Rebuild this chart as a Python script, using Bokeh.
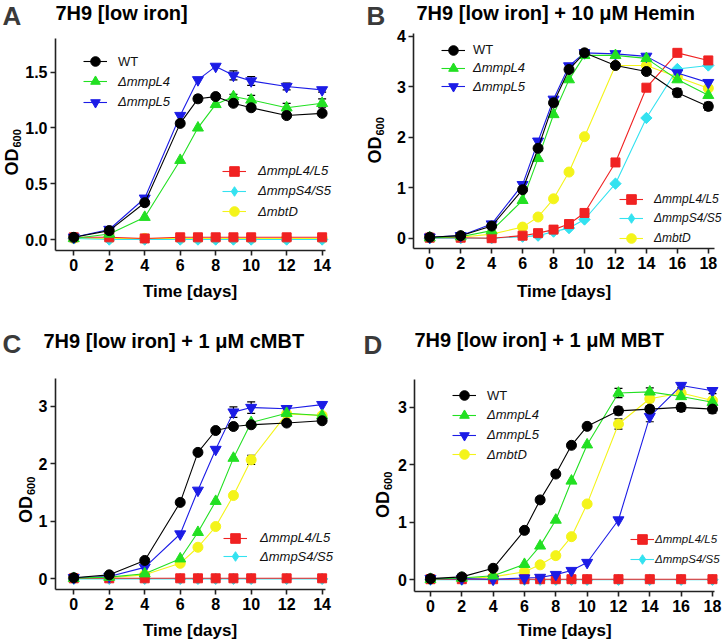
from bokeh.plotting import figure
from bokeh.layouts import gridplot
from bokeh.models import (Range1d, Legend, LegendItem, Label, Whisker, TeeHead, LinearAxis,
                          ColumnDataSource, FixedTicker, NumeralTickFormatter)
from bokeh.embed import file_html
from bokeh.resources import INLINE

FONT = "Liberation Sans"

# ------------------------------------------------------------------ data
days_14 = [0, 2, 4, 6, 7, 8, 9, 10, 12, 14]
days_18 = [0, 2, 4, 6, 7, 8, 9, 10, 12, 14, 16, 18]

series_names = ["WT", "ΔmmpL4", "ΔmmpL5", "ΔmmpL4/L5", "ΔmmpS4/S5", "ΔmbtD"]

# Panel A: 7H9 [low iron]
a_wt = [0.02, 0.08, 0.33, 1.04, 1.26, 1.28, 1.22, 1.18, 1.11, 1.13]
a_L4 = [0.01, 0.05, 0.20, 0.71, 1.00, 1.21, 1.28, 1.25, 1.18, 1.22]
a_L5 = [0.02, 0.09, 0.37, 1.11, 1.43, 1.55, 1.47, 1.42, 1.37, 1.34]
a_L4L5 = [0.02, 0.02, 0.01, 0.02, 0.02, 0.02, 0.02, 0.02, 0.02, 0.02]
a_S4S5 = [0.01, 0.00, 0.00, 0.00, 0.00, 0.00, 0.00, 0.00, 0.00, 0.00]
a_mbtD = [0.01, 0.01, 0.01, 0.01, 0.01, 0.01, 0.01, 0.01, 0.01, 0.01]
a_wt_err = [0, 0.01, 0.02, 0.02, 0.03, 0.02, 0.02, 0.02, 0.02, 0.02]
a_L4_err = [0, 0, 0, 0, 0, 0, 0.02, 0.04, 0.04, 0.04]
a_L5_err = [0, 0, 0, 0, 0, 0, 0.04, 0.04, 0.03, 0.02]

# Panel B: + 10 uM Hemin
b_wt = [0.02, 0.05, 0.24, 0.96, 1.78, 2.68, 3.34, 3.67, 3.42, 3.30, 2.88, 2.61]
b_L4 = [0.01, 0.03, 0.15, 0.75, 1.58, 2.45, 3.14, 3.62, 3.62, 3.56, 3.14, 2.83]
b_L5 = [0.02, 0.05, 0.28, 1.06, 1.92, 2.75, 3.41, 3.67, 3.65, 3.60, 3.27, 3.08]
b_L4L5 = [0.01, 0.01, 0.00, 0.05, 0.10, 0.17, 0.28, 0.50, 1.50, 2.98, 3.67, 3.52]
b_S4S5 = [0.00, 0.00, 0.00, 0.03, 0.05, 0.13, 0.20, 0.37, 1.08, 2.38, 3.35, 3.42]
b_mbtD = [0.01, 0.02, 0.08, 0.22, 0.42, 0.78, 1.31, 2.01, 3.42, 3.42, 3.19, 2.97]
b_wt_err = [0, 0, 0, 0, 0, 0, 0, 0, 0, 0.03, 0.08, 0.08]

# Panel C: + 1 uM cMBT
c_wt = [0.02, 0.07, 0.32, 1.33, 2.20, 2.58, 2.65, 2.68, 2.71, 2.75]
c_L4 = [0.01, 0.03, 0.09, 0.35, 0.81, 1.35, 2.10, 2.72, 2.88, 2.84]
c_L5 = [0.02, 0.04, 0.20, 0.78, 1.54, 2.25, 2.90, 2.98, 2.96, 3.03]
c_L4L5 = [0.01, 0.01, 0.01, 0.01, 0.01, 0.01, 0.01, 0.01, 0.01, 0.01]
c_S4S5 = [0.00, 0.00, 0.00, 0.00, 0.00, 0.00, 0.00, 0.00, 0.00, 0.00]
c_mbtD = [0.01, 0.02, 0.07, 0.27, 0.55, 0.91, 1.45, 2.07, 2.87, 2.84]
c_L5_err = [0, 0, 0, 0, 0, 0, 0.09, 0.10, 0, 0]
c_mbtD_err = [0, 0, 0, 0, 0, 0, 0, 0.08, 0, 0]

# Panel D: + 1 uM MBT
d_wt = [0.02, 0.05, 0.20, 0.86, 1.39, 1.84, 2.34, 2.67, 2.94, 2.97, 3.00, 2.97]
d_L4 = [0.01, 0.03, 0.07, 0.27, 0.59, 1.04, 1.72, 2.35, 3.25, 3.27, 3.19, 3.09]
d_L5 = [0.02, 0.02, 0.01, 0.03, 0.04, 0.09, 0.16, 0.30, 1.04, 2.84, 3.38, 3.29]
d_L4L5 = [0.01, 0.01, 0.01, 0.01, 0.01, 0.01, 0.01, 0.01, 0.01, 0.01, 0.01, 0.01]
d_S4S5 = [0.00, 0.00, 0.00, 0.00, 0.00, 0.00, 0.00, 0.00, 0.00, 0.00, 0.00, 0.00]
d_mbtD = [0.01, 0.02, 0.05, 0.14, 0.26, 0.42, 0.75, 1.32, 2.71, 3.15, 3.25, 3.12]
d_wt_err = [0, 0, 0, 0, 0, 0, 0, 0, 0.07, 0.06, 0.07, 0.07]
d_L4_err = [0, 0, 0, 0, 0, 0, 0, 0, 0.08, 0.07, 0, 0]
d_L5_err = [0, 0, 0, 0, 0, 0, 0, 0, 0, 0.09, 0.04, 0.05]
d_mbtD_err = [0, 0, 0, 0, 0, 0, 0, 0, 0.09, 0.05, 0, 0]

ticks_x14 = [0, 2, 4, 6, 8, 10, 12, 14]
ticks_x18 = [0, 2, 4, 6, 8, 10, 12, 14, 16, 18]

# ------------------------------------------------------------------ styles
# name: (colour, marker, size, angle, legend marker)
STYLE = {
    "WT": ("#000000", "circle", 10, 0.0, "circle"),
    "ΔmmpL4": ("#22e022", "triangle", 11, 0.0, "triangle"),
    "ΔmmpL5": ("#1c1ce6", "inverted_triangle", 11, 0.0, "inverted_triangle"),
    "ΔmmpL4/L5": ("#f02222", "square", 9, 0.0, "square"),
    "ΔmmpS4/S5": ("#33e2f0", "square", 8, 0.7854, "diamond"),
    "ΔmbtD": ("#f4f41a", "circle", 10, 0.0, "circle"),
}
DRAW_ORDER = ["ΔmbtD", "ΔmmpS4/S5", "ΔmmpL4/L5", "ΔmmpL5", "ΔmmpL4", "WT"]

PW, PH = 361, 321
BASE_SHIFT = 0.32   # alphabetic-baseline correction (fraction of font size)


def make_panel(g, days, ys, errs, letter, title, xticks, yticks, yfmt,
               top_keys, top_leg, bot_keys, bot_leg, xlabel_pos, ylabel_pos):
    ox, oy = g["ox"], g["oy"]
    kx = (g["x1"] - g["x0"]) / (g["fr"] - g["fl"])
    ky = (g["y1"] - g["y0"]) / (g["fb"] - g["ft"])
    cx0 = g["x0"] - (g["fl"] - ox) * kx
    cx1 = g["x0"] + (ox + PW - g["fl"]) * kx
    cy0 = g["y0"] - (oy + PH - g["fb"]) * ky
    cy1 = g["y0"] + (g["fb"] - oy) * ky

    p = figure(width=PW, height=PH, output_backend="svg", toolbar_location=None,
               title=None, x_axis_location=None, y_axis_location=None,
               x_range=Range1d(cx0, cx1), y_range=Range1d(cy0, cy1),
               min_border=0, min_border_left=0, min_border_right=0,
               min_border_top=0, min_border_bottom=0)
    p.outline_line_color = None
    p.xgrid.visible = False
    p.ygrid.visible = False

    xaxis = LinearAxis(fixed_location=g["y0"], bounds=(g["x0"], g["x1"]),
                       ticker=FixedTicker(ticks=xticks))
    yaxis = LinearAxis(fixed_location=g["x0"], bounds=(g["y0"], g["y1"]),
                       ticker=FixedTicker(ticks=yticks),
                       formatter=NumeralTickFormatter(format=yfmt))
    for ax in (xaxis, yaxis):
        ax.axis_line_width = 1.6
        ax.axis_line_color = "#222222"
        ax.major_tick_line_width = 1.6
        ax.major_tick_line_color = "#222222"
        ax.major_tick_out = 5
        ax.major_tick_in = 0
        ax.minor_tick_line_color = None
        ax.major_label_text_font = FONT
        ax.major_label_text_font_size = "16px"
        ax.major_label_text_font_style = "bold"
        ax.major_label_text_color = "#000000"
        ax.major_label_standoff = 3
    p.add_layout(xaxis, "below")
    p.add_layout(yaxis, "left")

    def dx(sx):
        return cx0 + (sx - ox) * kx

    def dy(sy):
        return cy0 + (oy + PH - sy) * ky

    def text(sx, sy, t, size, style="bold", align="left", rotated=False, color="#000000"):
        if rotated:
            sx = sx - BASE_SHIFT * size
        else:
            sy = sy - BASE_SHIFT * size
        p.add_layout(Label(x=dx(sx), y=dy(sy), text=t, text_font=FONT,
                           text_font_size=f"{size}px", text_font_style=style,
                           text_align=align, text_baseline="alphabetic",
                           angle=1.5708 if rotated else 0.0, text_color=color))

    # error bars (behind markers)
    for name, err in errs.items():
        xs, lo, hi = [], [], []
        for t, yv, e in zip(days, ys[name], err):
            if e > 0:
                xs.append(t)
                lo.append(yv - e)
                hi.append(yv + e)
        if xs:
            src = ColumnDataSource(dict(base=xs, lower=lo, upper=hi))
            p.add_layout(Whisker(source=src, base="base", lower="lower", upper="upper",
                                 line_color="#000000", line_width=1.2, level="underlay",
                                 upper_head=TeeHead(size=8, line_color="#000000", line_width=1.2),
                                 lower_head=TeeHead(size=8, line_color="#000000", line_width=1.2)))

    rends = {}
    for name in DRAW_ORDER:
        if name not in ys:
            continue
        color, marker, size, ang, lmarker = STYLE[name]
        lr = p.line(days, ys[name], line_color=color, line_width=1.1)
        leg_r = None
        if lmarker != marker:
            # same-colour glyph hidden under the real marker; used for the legend
            leg_r = p.scatter(days, ys[name], marker=lmarker, size=size + 2,
                              fill_color=color, line_color=color)
        sr = p.scatter(days, ys[name], marker=marker, size=size, angle=ang,
                       fill_color=color, line_color=color)
        rends[name] = [lr, leg_r if leg_r is not None else sr]

    G = 26

    def add_legend(keys, spec):
        gx, cy, rowh, tx, fsize = spec
        for i, k in enumerate(keys):
            c = cy + i * rowh
            leg = Legend(items=[LegendItem(label=k, renderers=rends[k])],
                         location=(gx - ox, oy + PH - (c + G / 2.0)),
                         padding=0, spacing=0, margin=0,
                         glyph_width=24, glyph_height=G, label_height=G,
                         label_standoff=int(round(tx - gx - 24)),
                         label_text_font=FONT, label_text_font_size=f"{fsize}px",
                         label_text_font_style="normal" if k == "WT" else "italic",
                         label_text_color="#111111",
                         background_fill_alpha=0, border_line_color=None)
            p.add_layout(leg)

    add_legend(top_keys, top_leg)
    add_legend(bot_keys, bot_leg)

    # letter and title
    text(g["letter_x"], g["letter_base"], letter, 26, color="#3a3a3a")
    text(g["title_x"], g["title_base"], title, 20)
    # axis titles
    text(xlabel_pos[0], xlabel_pos[1], "Time [days]", 17, align="center")
    bx, by = ylabel_pos
    text(bx, by, "OD", 18, rotated=True)
    text(bx + 3, by - 18 * 1.5 - 1, "600", 11, rotated=True)
    return p


geo_a = dict(ox=0, oy=0, fl=55, fr=325, ft=38, fb=250, x0=-1.03, x1=14.19, y0=-0.098, y1=1.80,
             letter_x=2, letter_base=23.5, title_x=55, title_base=19)
geo_b = dict(ox=361, oy=0, fl=413.3, fr=714, ft=33, fb=248, x0=-1.03, x1=18.40, y0=-0.204, y1=4.053,
             letter_x=366, letter_base=23.5, title_x=416, title_base=19)
geo_c = dict(ox=0, oy=321, fl=55, fr=325, ft=377.7, fb=589.3, x0=-1.03, x1=14.19, y0=-0.19, y1=3.49,
             letter_x=2, letter_base=352, title_x=43, title_base=347)
geo_d = dict(ox=361, oy=321, fl=414.3, fr=714, ft=379.3, fb=591, x0=-1.0, x1=18.13, y0=-0.204, y1=3.48,
             letter_x=363, letter_base=352.5, title_x=414, title_base=346)

top6 = ["WT", "ΔmmpL4", "ΔmmpL5"]
bot6 = ["ΔmmpL4/L5", "ΔmmpS4/S5", "ΔmbtD"]
top4 = ["WT", "ΔmmpL4", "ΔmmpL5", "ΔmbtD"]
bot4 = ["ΔmmpL4/L5", "ΔmmpS4/S5"]

pa = make_panel(geo_a, days_14,
                {"WT": a_wt, "ΔmmpL4": a_L4, "ΔmmpL5": a_L5, "ΔmmpL4/L5": a_L4L5,
                 "ΔmmpS4/S5": a_S4S5, "ΔmbtD": a_mbtD},
                {"WT": a_wt_err, "ΔmmpL4": a_L4_err, "ΔmmpL5": a_L5_err},
                "A", "7H9 [low iron]", ticks_x14, [0, 0.5, 1.0, 1.5], "0.0",
                top6, (83, 61, 20.3, 118, 13), bot6, (222, 170.5, 20.3, 258, 13),
                (189.5, 296), (17, 175))
pb = make_panel(geo_b, days_18,
                {"WT": b_wt, "ΔmmpL4": b_L4, "ΔmmpL5": b_L5, "ΔmmpL4/L5": b_L4L5,
                 "ΔmmpS4/S5": b_S4S5, "ΔmbtD": b_mbtD},
                {"WT": b_wt_err},
                "B", "7H9 [low iron] + 10 μM Hemin", ticks_x18, [0, 1, 2, 3, 4], "0",
                top6, (441, 49.5, 18.3, 473, 13), bot6, (619, 198.5, 19.7, 654, 12),
                (563.5, 296), (380, 163))
pc = make_panel(geo_c, days_14,
                {"WT": c_wt, "ΔmmpL4": c_L4, "ΔmmpL5": c_L5, "ΔmmpL4/L5": c_L4L5,
                 "ΔmmpS4/S5": c_S4S5, "ΔmbtD": c_mbtD},
                {"ΔmmpL5": c_L5_err, "ΔmbtD": c_mbtD_err},
                "C", "7H9 [low iron] + 1 μM cMBT", ticks_x14, [0, 1, 2, 3], "0",
                top4, (89, 69.5, 19.1, 125, 13), bot4, (223, 537.7, 18.3, 260, 13),
                (189.5, 635), (31, 522.5))
pd_ = make_panel(geo_d, days_18,
                 {"WT": d_wt, "ΔmmpL4": d_L4, "ΔmmpL5": d_L5, "ΔmmpL4/L5": d_L4L5,
                  "ΔmmpS4/S5": d_S4S5, "ΔmbtD": d_mbtD},
                 {"WT": d_wt_err, "ΔmmpL4": d_L4_err, "ΔmmpL5": d_L5_err, "ΔmbtD": d_mbtD_err},
                 "D", "7H9 [low iron] + 1 μM MBT", ticks_x18, [0, 1, 2, 3], "0",
                 top4, (452, 395, 19.8, 487, 13), bot4, (630, 539.3, 19.4, 655, 11.5),
                 (564, 635), (388, 517.5))

grid = gridplot([[pa, pb], [pc, pd_]], toolbar_location=None)
open("out.html", "w").write(file_html(grid, INLINE))
